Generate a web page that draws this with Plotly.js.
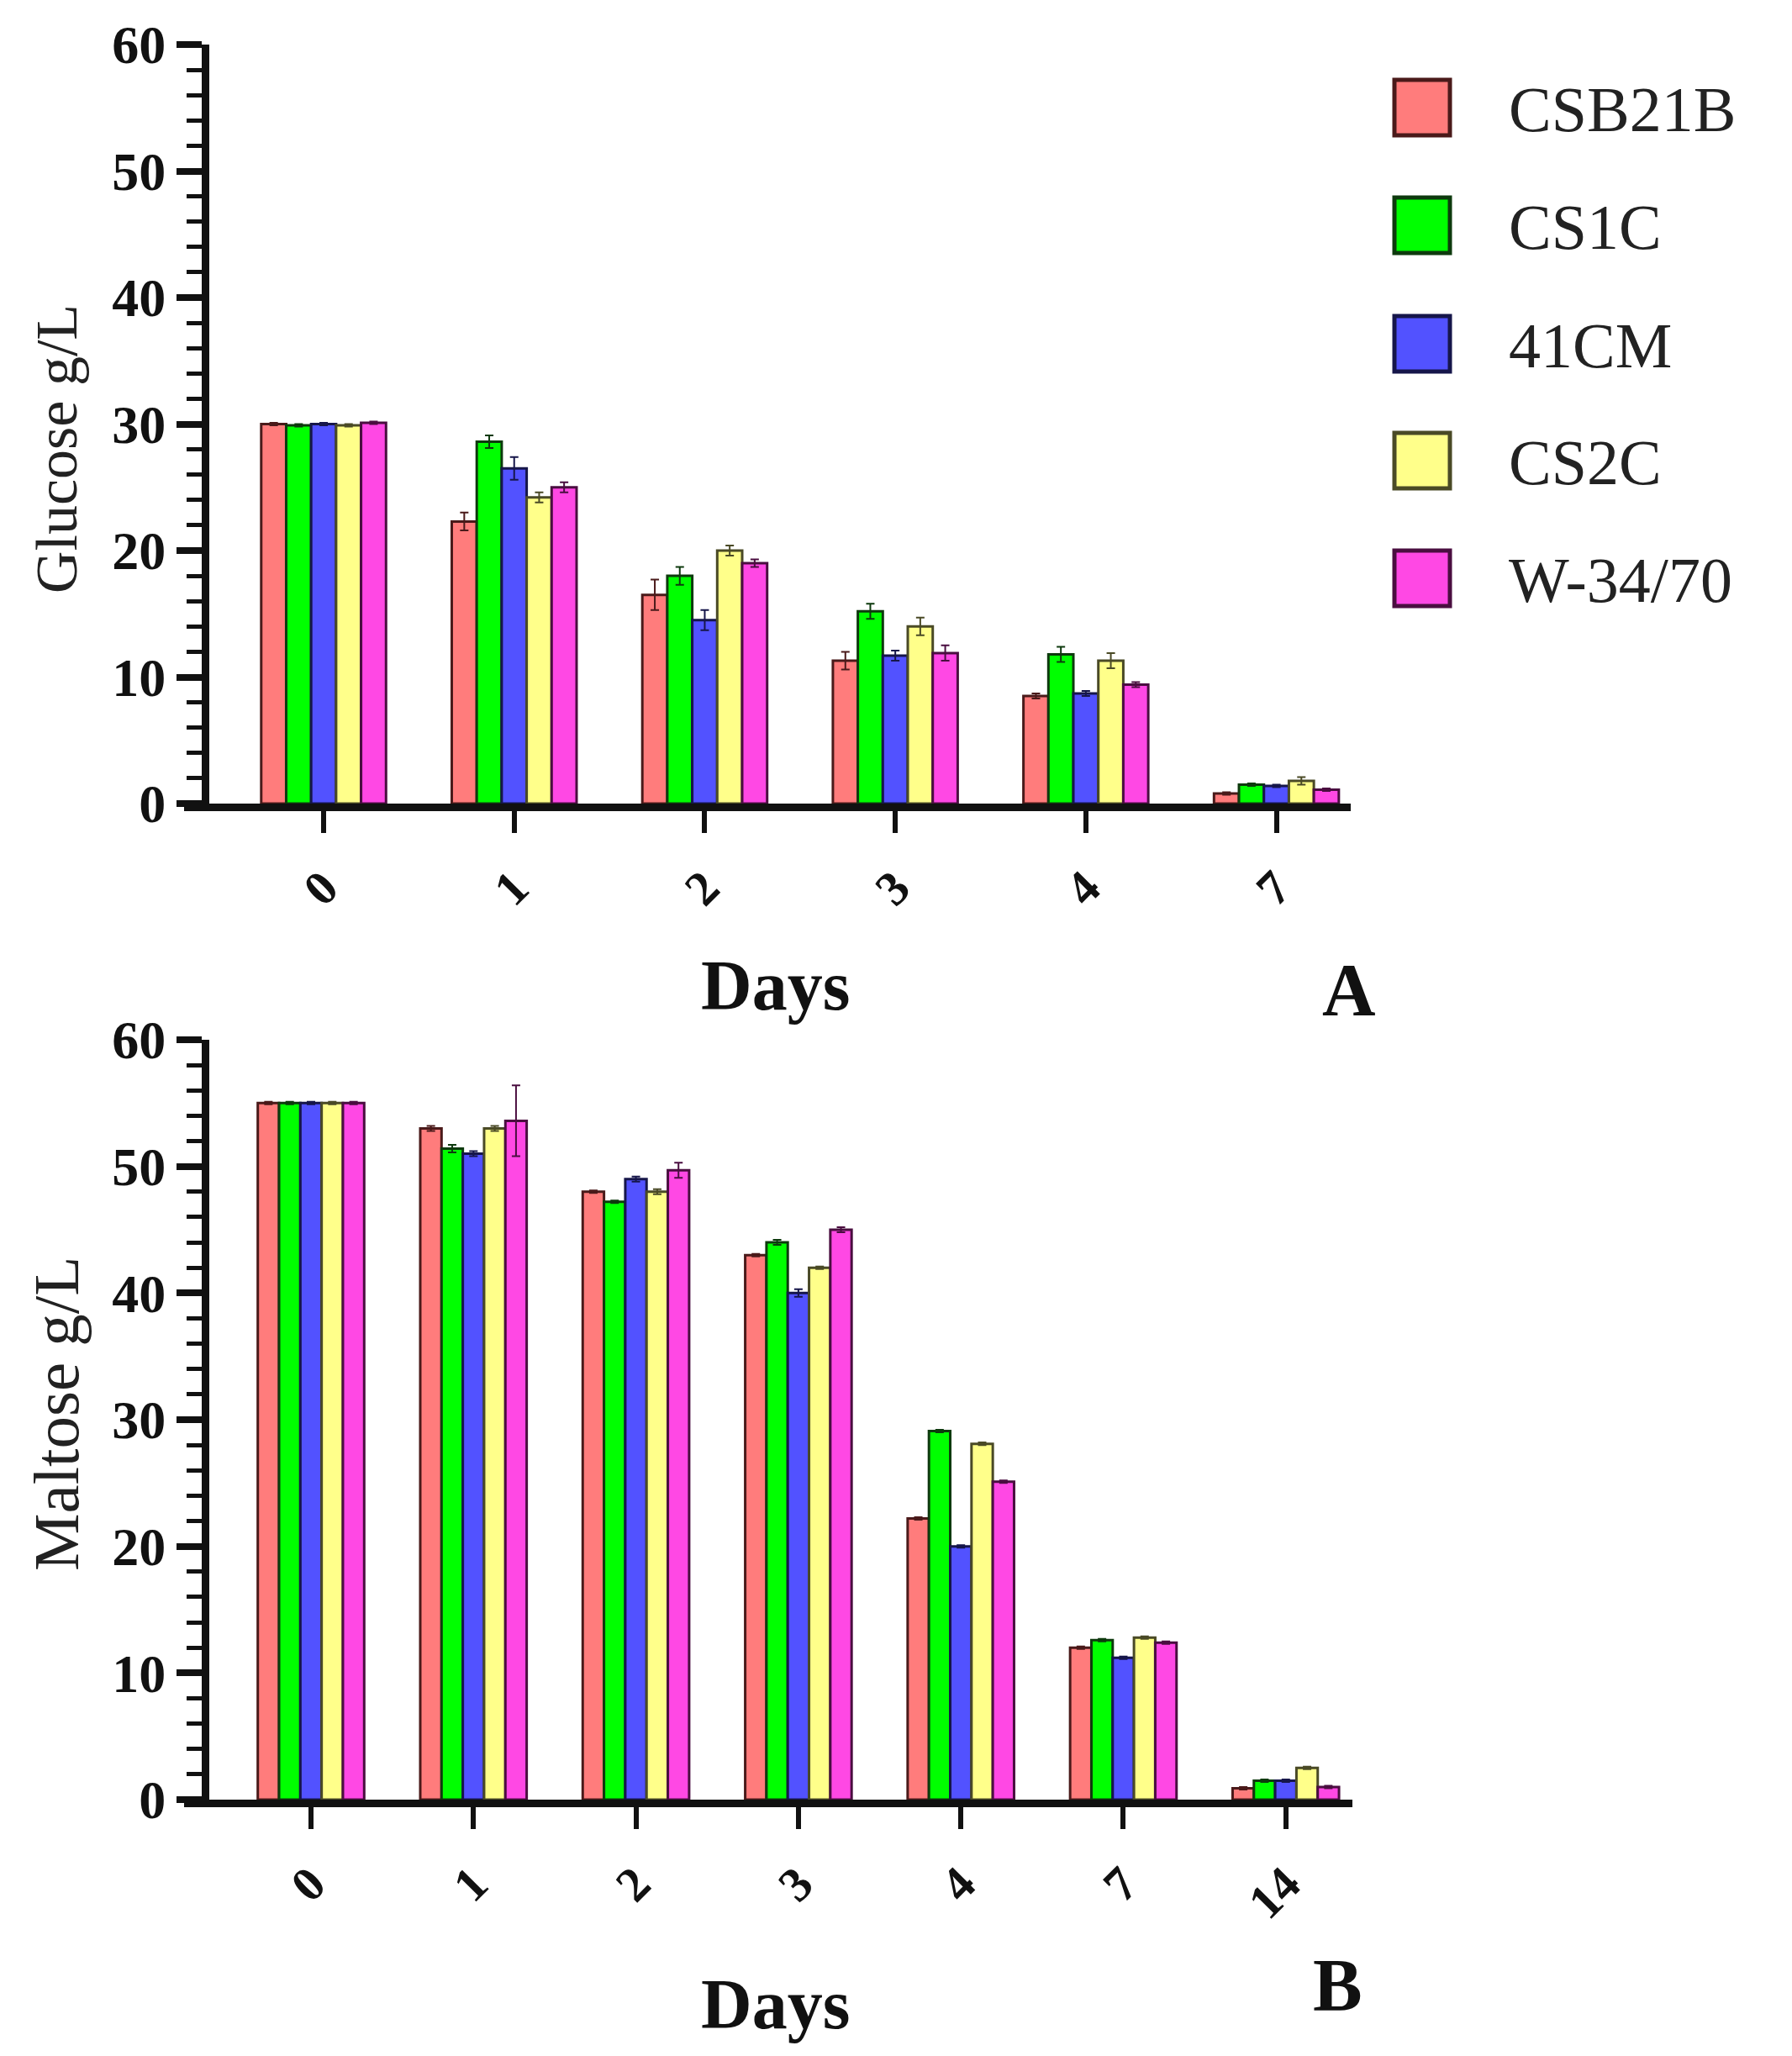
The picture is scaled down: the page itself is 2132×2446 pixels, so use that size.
<!DOCTYPE html>
<html>
<head>
<meta charset="utf-8">
<script src="https://cdn.plot.ly/plotly-3.0.1.min.js"></script>
<style>html,body{margin:0;padding:0;background:#fff;}#chart{width:2132px;height:2446px;}</style>
</head>
<body>
<div id="chart"></div>
<script>
// ---- data ----
const strains = ['CSB21B', 'CS1C', '41CM', 'CS2C', 'W-34/70'];
const glucoseDays = ['0', '1', '2', '3', '4', '7'];
const maltoseDays = ['0', '1', '2', '3', '4', '7', '14'];

const glucoseCSB21B = [30.0, 22.3, 16.5, 11.3, 8.5, 0.8];
const glucoseCS1C   = [29.9, 28.6, 18.0, 15.2, 11.8, 1.5];
const glucose41CM   = [30.0, 26.5, 14.5, 11.7, 8.7, 1.4];
const glucoseCS2C   = [29.9, 24.2, 20.0, 14.0, 11.3, 1.8];
const glucoseW3470  = [30.1, 25.0, 19.0, 11.9, 9.4, 1.1];

const glucoseErrCSB21B = [0.1, 0.7, 1.2, 0.7, 0.2, 0.1];
const glucoseErrCS1C   = [0.1, 0.5, 0.7, 0.6, 0.6, 0.1];
const glucoseErr41CM   = [0.1, 0.9, 0.8, 0.4, 0.2, 0.1];
const glucoseErrCS2C   = [0.1, 0.4, 0.4, 0.7, 0.6, 0.3];
const glucoseErrW3470  = [0.1, 0.4, 0.3, 0.6, 0.2, 0.1];

const maltoseCSB21B = [55.0, 53.0, 48.0, 43.0, 22.2, 12.0, 0.9];
const maltoseCS1C   = [55.0, 51.4, 47.2, 44.0, 29.1, 12.6, 1.5];
const maltose41CM   = [55.0, 51.0, 49.0, 40.0, 20.0, 11.2, 1.5];
const maltoseCS2C   = [55.0, 53.0, 48.0, 42.0, 28.1, 12.8, 2.5];
const maltoseW3470  = [55.0, 53.6, 49.7, 45.0, 25.1, 12.4, 1.0];

const maltoseErrCSB21B = [0.1, 0.2, 0.1, 0.1, 0.1, 0.1, 0.1];
const maltoseErrCS1C   = [0.1, 0.3, 0.1, 0.2, 0.1, 0.1, 0.1];
const maltoseErr41CM   = [0.1, 0.2, 0.2, 0.3, 0.1, 0.1, 0.1];
const maltoseErrCS2C   = [0.1, 0.2, 0.2, 0.1, 0.1, 0.1, 0.1];
const maltoseErrW3470  = [0.1, 2.8, 0.6, 0.2, 0.1, 0.1, 0.1];

const glucoseSeries = [glucoseCSB21B, glucoseCS1C, glucose41CM, glucoseCS2C, glucoseW3470];
const glucoseErrs = [glucoseErrCSB21B, glucoseErrCS1C, glucoseErr41CM, glucoseErrCS2C, glucoseErrW3470];
const maltoseSeries = [maltoseCSB21B, maltoseCS1C, maltose41CM, maltoseCS2C, maltoseW3470];
const maltoseErrs = [maltoseErrCSB21B, maltoseErrCS1C, maltoseErr41CM, maltoseErrCS2C, maltoseErrW3470];

// ---- styles ----
const fills = ['#FF7C7C', '#00FF00', '#5252FF', '#FFFF8A', '#FF48E4'];
const borders = ['#4A1A1A', '#0E3A0E', '#16164A', '#4A4A26', '#4A0E40'];

const W = 2132, H = 2446;
const px = p => p / W;
const py = p => 1 - p / H;
const serif = 'Liberation Serif, Times New Roman, serif';

const traces = [];
strains.forEach((name, i) => {
  traces.push({
    type: 'bar', name: name, x: glucoseDays, y: glucoseSeries[i],
    xaxis: 'x', yaxis: 'y', showlegend: false,
    marker: {color: fills[i], line: {color: borders[i], width: 3}},
    error_y: {type: 'data', array: glucoseErrs[i], visible: true, color: borders[i], thickness: 2, width: 5}
  });
});
strains.forEach((name, i) => {
  traces.push({
    type: 'bar', name: name, x: maltoseDays, y: maltoseSeries[i],
    xaxis: 'x2', yaxis: 'y2', showlegend: false,
    marker: {color: fills[i], line: {color: borders[i], width: 3}},
    error_y: {type: 'data', array: maltoseErrs[i], visible: true, color: borders[i], thickness: 2, width: 5}
  });
});

const tickFontY = {family: serif, size: 64, color: '#111', weight: 'bold'};
const tickFontX = {family: serif, size: 58, color: '#111', weight: 'bold'};

function yaxisDef(top, bottom, anchor) {
  return {
    domain: [py(bottom), py(top)], range: [0, 60], anchor: anchor,
    tickvals: [0, 10, 20, 30, 40, 50, 60], ticks: 'outside', ticklen: 30, tickwidth: 8, tickcolor: '#111',
    minor: {dtick: 2, ticks: 'outside', ticklen: 18, tickwidth: 5, tickcolor: '#111'},
    showline: true, linewidth: 9, linecolor: '#111', showgrid: false, zeroline: false,
    tickfont: tickFontY, fixedrange: true
  };
}
function xaxisDef(range, anchor) {
  return {
    domain: [px(249), px(1607)], range: range, anchor: anchor, type: 'category',
    ticks: 'outside', ticklen: 26, tickwidth: 6, tickcolor: '#111', tickangle: -45,
    showline: true, linewidth: 9, linecolor: '#111', showgrid: false, zeroline: false,
    tickfont: tickFontX, fixedrange: true, ticklabelstandoff: 8
  };
}

const shapes = [
  // x-axis lines extend left past the y-axis
  {type: 'line', xref: 'paper', yref: 'paper', x0: px(219), x1: px(252), y0: py(960.5), y1: py(960.5), line: {color: '#111', width: 9}},
  {type: 'line', xref: 'paper', yref: 'paper', x0: px(219), x1: px(252), y0: py(2145.5), y1: py(2145.5), line: {color: '#111', width: 9}}
];
const legendCenters = [128, 268, 409, 548, 688];
const annotations = [];
strains.forEach((name, i) => {
  const c = legendCenters[i];
  shapes.push({type: 'rect', xref: 'paper', yref: 'paper', x0: px(1659), x1: px(1725), y0: py(c + 33), y1: py(c - 33),
    fillcolor: fills[i], line: {color: borders[i], width: 5}});
  annotations.push({xref: 'paper', yref: 'paper', x: px(1793), y: py(c + 2), xanchor: 'left', yanchor: 'middle',
    text: name, showarrow: false, font: {family: serif, size: 76, color: '#222'}});
});
annotations.push(
  {xref: 'paper', yref: 'paper', x: px(67), y: py(534), text: 'Glucose g/L', textangle: -90, showarrow: false,
    xanchor: 'center', yanchor: 'middle', font: {family: serif, size: 70, color: '#222'}},
  {xref: 'paper', yref: 'paper', x: px(67), y: py(1682), text: 'Maltose g/L', textangle: -90, showarrow: false,
    xanchor: 'center', yanchor: 'middle', font: {family: serif, size: 77, color: '#222'}},
  {xref: 'paper', yref: 'paper', x: px(922), y: py(1172), text: 'Days', showarrow: false,
    xanchor: 'center', yanchor: 'middle', font: {family: serif, size: 84, color: '#111', weight: 'bold'}},
  {xref: 'paper', yref: 'paper', x: px(922), y: py(2384), text: 'Days', showarrow: false,
    xanchor: 'center', yanchor: 'middle', font: {family: serif, size: 84, color: '#111', weight: 'bold'}},
  {xref: 'paper', yref: 'paper', x: px(1605), y: py(1177), text: 'A', showarrow: false,
    xanchor: 'center', yanchor: 'middle', font: {family: serif, size: 88, color: '#111', weight: 'bold'}},
  {xref: 'paper', yref: 'paper', x: px(1591), y: py(2361), text: 'B', showarrow: false,
    xanchor: 'center', yanchor: 'middle', font: {family: serif, size: 88, color: '#111', weight: 'bold'}}
);

const layout = {
  width: W, height: H, margin: {l: 0, r: 0, t: 0, b: 0},
  paper_bgcolor: '#fff', plot_bgcolor: 'rgba(0,0,0,0)',
  barmode: 'group', bargap: 0.345, bargroupgap: 0,
  showlegend: false,
  xaxis: xaxisDef([-0.6, 5.39], 'y'),
  yaxis: yaxisDef(53, 956, 'x'),
  xaxis2: xaxisDef([-0.626, 6.41], 'y2'),
  yaxis2: yaxisDef(1237, 2141, 'x2'),
  shapes: shapes, annotations: annotations
};
layout.xaxis2.domain = [px(249), px(1609)];

Plotly.newPlot('chart', traces, layout, {staticPlot: true, displayModeBar: false});
</script>
</body>
</html>
